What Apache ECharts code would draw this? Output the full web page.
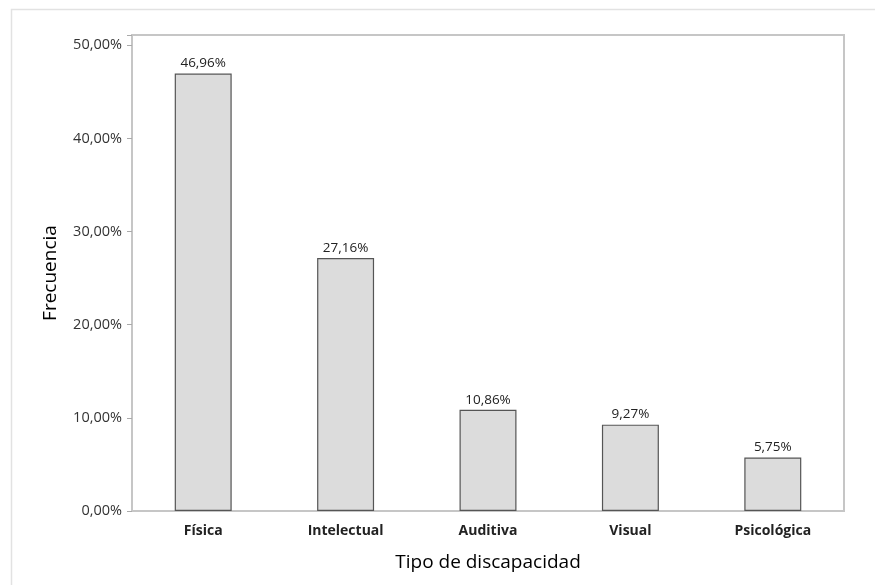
<!DOCTYPE html>
<html>
<head>
<meta charset="utf-8">
<script src="https://cdn.jsdelivr.net/npm/echarts@6/dist/echarts.min.js"></script>
<style>html,body{margin:0;padding:0;background:#fff}#c{width:875px;height:585px}</style>
</head>
<body>
<div id="c"></div>
<script>
const categories = ['Física', 'Intelectual', 'Auditiva', 'Visual', 'Psicológica'];
const values = [46.96, 27.16, 10.86, 9.27, 5.75];
const yTicks = [0, 10, 20, 30, 40, 50];
const xTitle = 'Tipo de discapacidad';
const yTitle = 'Frecuencia';

const fmt = v => v.toFixed(2).replace('.', ',') + '%';
const FONT = '"Open Sans", "Noto Sans", sans-serif';

const chart = echarts.init(document.getElementById('c'), null, {renderer: 'canvas'});
chart.setOption({
  animation: false,
  backgroundColor: '#fff',
  graphic: [{
    type: 'rect', left: 9, top: 7, silent: true,
    shape: {x: 0, y: 0, width: 900, height: 600},
    style: {fill: 'none', stroke: '#e2e2e2', lineWidth: 1.5}
  }],
  grid: {left: 132, right: 31, top: 35, bottom: 74, show: true, borderColor: '#c6c6c6', borderWidth: 2, backgroundColor: 'transparent'},
  xAxis: {
    type: 'category', data: categories,
    name: xTitle, nameLocation: 'middle', nameGap: 42,
    nameTextStyle: {fontFamily: FONT, fontSize: 19, color: '#000'},
    axisLine: {lineStyle: {color: '#c6c6c6', width: 2}},
    axisTick: {alignWithLabel: true, length: 4, lineStyle: {color: '#aaa'}},
    axisLabel: {fontFamily: FONT, fontSize: 14, fontWeight: 'bold', color: '#222', margin: 13}
  },
  yAxis: {
    type: 'value', min: 0, max: 51.1, interval: 10,
    name: yTitle, nameLocation: 'middle', nameGap: 72, nameRotate: 90,
    nameTextStyle: {fontFamily: FONT, fontSize: 19, color: '#000'},
    axisLine: {show: true, lineStyle: {color: '#c6c6c6', width: 2}},
    axisTick: {show: true, length: 5, lineStyle: {color: '#aaa'}},
    splitLine: {show: false},
    axisLabel: {fontFamily: FONT, fontSize: 14.5, color: '#333', margin: 10,
      formatter: v => yTicks.includes(v) ? fmt(v) : ''}
  },
  series: [{
    type: 'bar', data: values, barWidth: '40%',
    itemStyle: {color: '#dcdcdc', borderColor: '#555', borderWidth: 1.2},
    label: {show: true, position: 'top', distance: 3, fontFamily: FONT, fontSize: 13.5, color: '#222',
      formatter: p => fmt(p.value)}
  }]
});
</script>
</body>
</html>
